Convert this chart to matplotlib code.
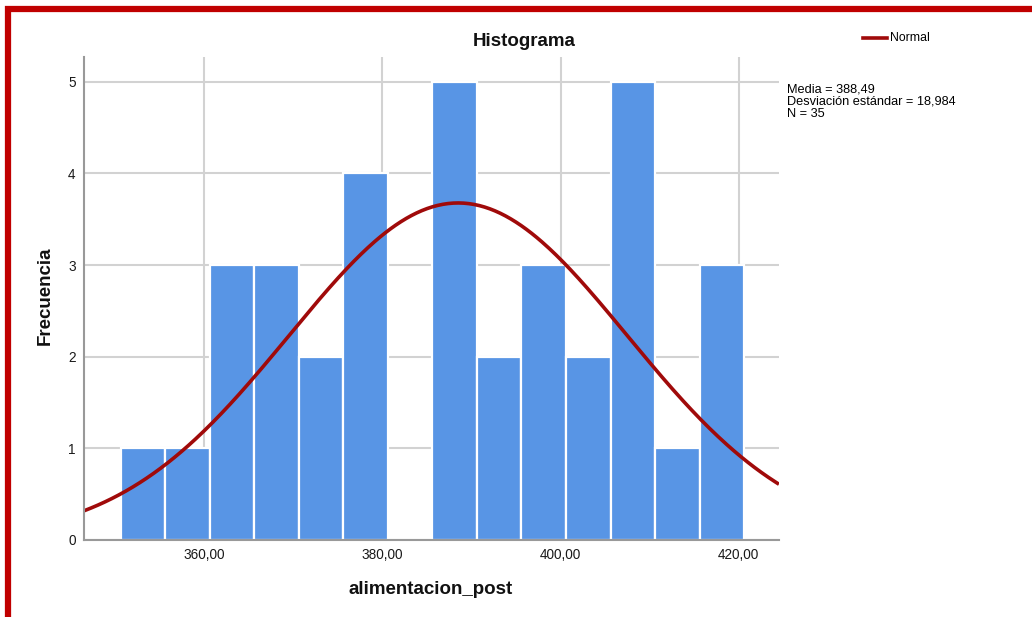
import numpy as np
import matplotlib.pyplot as plt
from matplotlib.patches import Rectangle

plt.rcParams['font.family'] = ['Liberation Sans', 'DejaVu Sans']

# histogram data (bin edges and counts)
bin_edges = [350.6, 355.6, 360.6, 365.6, 370.6, 375.6, 380.6, 385.6,
             390.6, 395.6, 400.6, 405.6, 410.6, 415.6, 420.6]
counts = [1, 1, 3, 3, 2, 4, 0, 5, 2, 3, 2, 5, 1, 3]
x_ticks = [360, 380, 400, 420]
x_tick_labels = ['360,00', '380,00', '400,00', '420,00']
y_ticks = [0, 1, 2, 3, 4, 5]

media = 388.49
desv = 18.984
n = 35

bar_color = '#5895e5'
curve_color = '#a00a0a'
grid_color = '#d2d2d2'

fig = plt.figure(figsize=(10.32, 6.17), dpi=100)
ax = fig.add_axes([0.0814, 0.1248, 0.6734, 0.7828])

widths = np.diff(bin_edges)
ax.bar(bin_edges[:-1], counts, width=widths, align='edge',
       color=bar_color, edgecolor='white', linewidth=1.6, zorder=2)

# normal curve scaled to the histogram
xlim = (346.5, 424.5)
xs = np.linspace(xlim[0], xlim[1], 400)
bw = widths[0]
ys = n * bw / (desv * np.sqrt(2 * np.pi)) * np.exp(-0.5 * ((xs - media) / desv) ** 2)
ax.plot(xs, ys, color=curve_color, linewidth=2.6, zorder=3, solid_capstyle='butt')

ax.set_xlim(*xlim)
ax.set_ylim(0, 5.27)
ax.set_xticks(x_ticks)
ax.set_xticklabels(x_tick_labels)
ax.set_yticks(y_ticks)
ax.tick_params(length=0, labelsize=9.8, colors='#1a1a1a', pad=6)
ax.grid(True, color=grid_color, linewidth=1.5)
ax.set_axisbelow(True)
for s in ['top', 'right']:
    ax.spines[s].set_visible(False)
for s in ['left', 'bottom']:
    ax.spines[s].set_color('#999999')
    ax.spines[s].set_linewidth(1.5)
    ax.spines[s].set_zorder(4)

# titles and labels
fig.text(524 / 1032, 1 - 41 / 617, 'Histograma', ha='center', va='center',
         fontsize=13.5, fontweight='bold', color='#111111')
fig.text(431 / 1032, 1 - 590 / 617, 'alimentacion_post', ha='center', va='center',
         fontsize=13.5, fontweight='bold', color='#111111')
fig.text(45 / 1032, 1 - 296 / 617, 'Frecuencia', ha='center', va='center',
         rotation=90, fontsize=13.5, fontweight='bold', color='#111111')

# legend
fig.add_artist(plt.Line2D([863 / 1032, 887 / 1032], [1 - 38 / 617, 1 - 38 / 617],
                          color=curve_color, linewidth=2.6, transform=fig.transFigure))
fig.text(890 / 1032, 1 - 38 / 617, 'Normal', ha='left', va='center', fontsize=8.8)

stats = ['Media = 388,49', 'Desviación estándar = 18,984', 'N = 35']
for i, line in enumerate(stats):
    fig.text(787 / 1032, 1 - (90 + 11.9 * i) / 617, line, ha='left', va='center',
             fontsize=9.2)

# red frame around the picture
fig.patches.append(Rectangle((8 / 1032, -0.1), 1.1, 1 - 9 / 617 + 0.1,
                             transform=fig.transFigure, fill=False,
                             edgecolor='#c00000', linewidth=4.5))

fig.savefig('out.png', dpi=100)
